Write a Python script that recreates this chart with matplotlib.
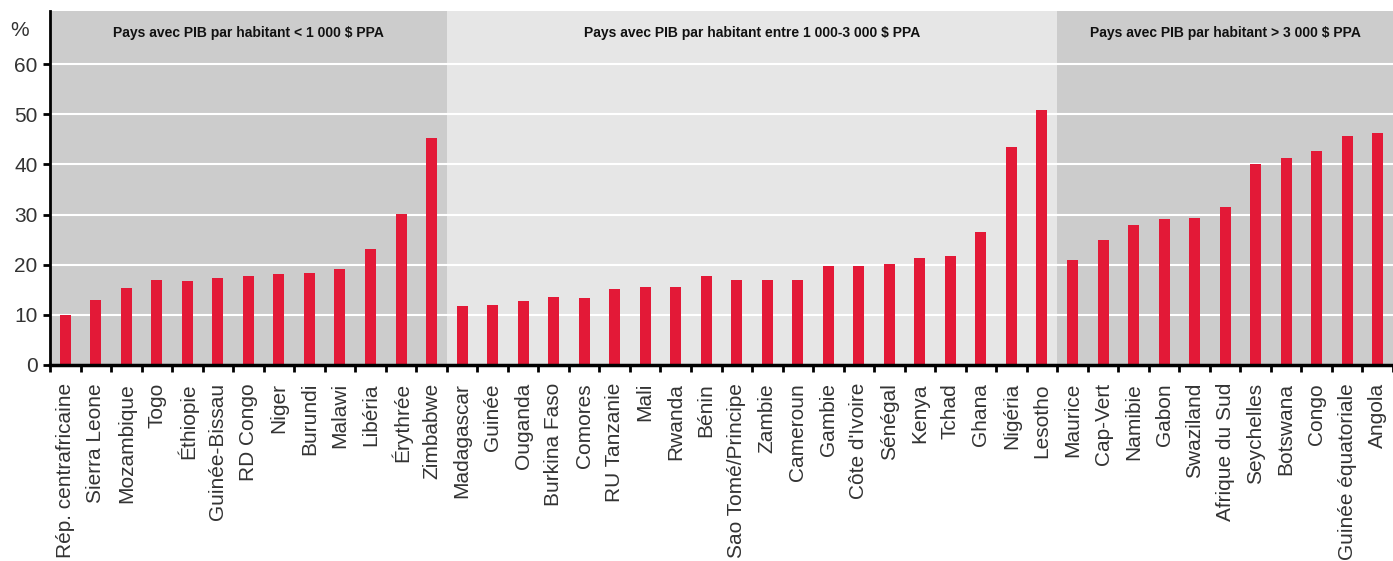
import matplotlib
matplotlib.use("Agg")
import matplotlib.pyplot as plt
import numpy as np

plt.rcParams['font.family'] = ['Liberation Sans', 'DejaVu Sans']

countries_low = ["Rép. centrafricaine", "Sierra Leone", "Mozambique", "Togo", "Éthiopie",
                 "Guinée-Bissau", "RD Congo", "Niger", "Burundi", "Malawi", "Libéria",
                 "Érythrée", "Zimbabwe"]
values_low = [10.0, 13.0, 15.3, 17.0, 16.8, 17.4, 17.8, 18.2, 18.4, 19.2, 23.1, 30.1, 45.2]

countries_mid = ["Madagascar", "Guinée", "Ouganda", "Burkina Faso", "Comores", "RU Tanzanie",
                 "Mali", "Rwanda", "Bénin", "Sao Tomé/Principe", "Zambie", "Cameroun",
                 "Gambie", "Côte d'Ivoire", "Sénégal", "Kenya", "Tchad", "Ghana",
                 "Nigéria", "Lesotho"]
values_mid = [11.8, 12.0, 12.8, 13.6, 13.4, 15.2, 15.6, 15.6, 17.8, 17.0, 17.0, 17.0,
              19.8, 19.8, 20.2, 21.4, 21.8, 26.5, 43.5, 50.8]

countries_high = ["Maurice", "Cap-Vert", "Namibie", "Gabon", "Swaziland", "Afrique du Sud",
                  "Seychelles", "Botswana", "Congo", "Guinée équatoriale", "Angola"]
values_high = [20.9, 24.9, 28.0, 29.1, 29.4, 31.6, 40.0, 41.2, 42.6, 45.7, 46.3]

group_titles = ["Pays avec PIB par habitant < 1 000 $ PPA",
                "Pays avec PIB par habitant entre 1 000-3 000 $ PPA",
                "Pays avec PIB par habitant > 3 000 $ PPA"]

labels = countries_low + countries_mid + countries_high
values = values_low + values_mid + values_high
n = len(labels)
x = np.arange(n)

fig = plt.figure(figsize=(13.93, 5.61), dpi=100)
ax = fig.add_axes([50/1393, 1-365/561, 1-50/1393, (365-10.5)/561])

ymax = 70.7
bounds = [0, len(countries_low), len(countries_low)+len(countries_mid), n]
bg = ["#cccccc", "#e6e6e6", "#cccccc"]
for i in range(3):
    ax.axvspan(bounds[i]-0.5, bounds[i+1]-0.5, color=bg[i], zorder=0, lw=0)
    ax.text((bounds[i]+bounds[i+1]-1)/2, 66.3, group_titles[i], ha='center', va='center',
            fontsize=10, fontweight='bold', color='#111111', zorder=3)

for yv in range(10, 70, 10):
    ax.axhline(yv, color='white', lw=1.5, zorder=1)

ax.bar(x, values, width=0.36, color="#e31937", zorder=2)

ax.set_xlim(-0.5, n-0.5)
ax.set_ylim(0, ymax)
ax.set_yticks(range(0, 70, 10))
ax.tick_params(axis='y', labelsize=15, length=5, width=2, direction='out', colors='black',
               labelcolor='#333333', pad=4)
ax.set_xticks(x)
ax.set_xticklabels(labels, rotation=90, fontsize=15, color='#333333')
ax.tick_params(axis='x', length=0, pad=13)
ax.set_xticks(np.arange(n+1)-0.5, minor=True)
ax.tick_params(axis='x', which='minor', length=5, width=2, direction='out', colors='black')

for s in ['top', 'right']:
    ax.spines[s].set_visible(False)
ax.spines['left'].set_linewidth(2)
ax.spines['bottom'].set_linewidth(2.5)

fig.text(20/1393, 1-31/561, "%", fontsize=15, ha='center', va='center', color='#333333')

fig.savefig("out.png", dpi=100)
